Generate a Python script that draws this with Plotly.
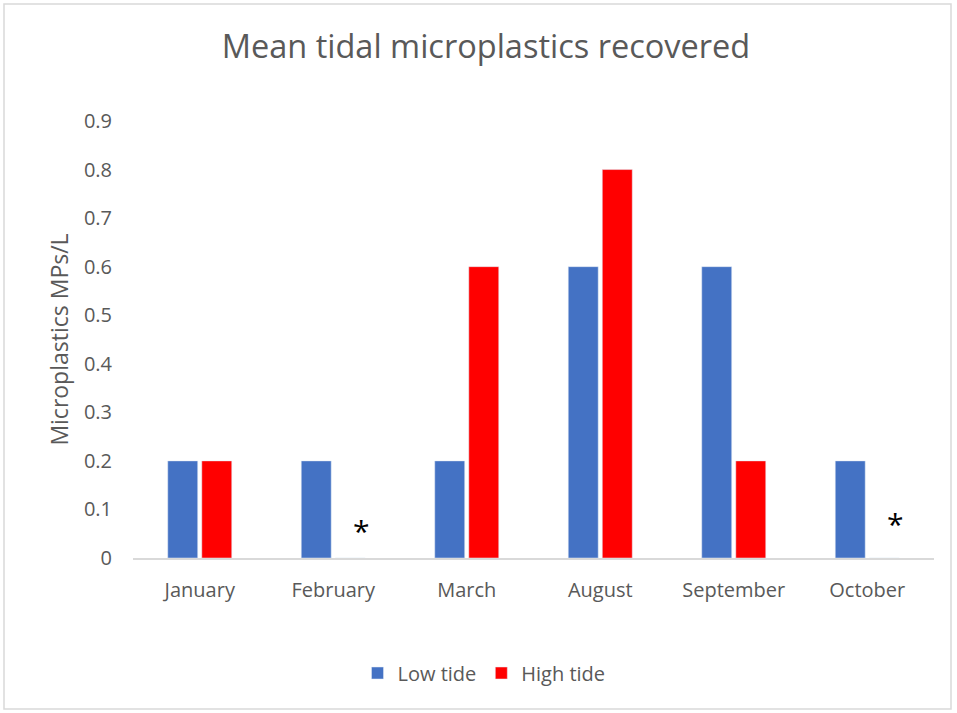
import plotly.graph_objects as go

months = ["January", "February", "March", "August", "September", "October"]
low_tide = [0.2, 0.2, 0.2, 0.6, 0.6, 0.2]
high_tide = [0.2, 0, 0.6, 0.8, 0.2, 0]

# months where no high-tide sample was taken, flagged with an asterisk
flagged_months = ["February", "October"]
flag_heights = [0.057, 0.072]

FONT = "'Open Sans', sans-serif"
GREY = "#595959"

fig = go.Figure()
fig.add_trace(go.Bar(name="Low tide", x=months, y=low_tide, marker_color="#4472C4"))
fig.add_trace(go.Bar(name="High tide", x=months, y=high_tide, marker_color="#FF0000"))

for m, h in zip(flagged_months, flag_heights):
    fig.add_annotation(x=m, y=h, xref="x", yref="y", text="*", showarrow=False,
                       xshift=28, font=dict(size=30, color="black", family=FONT))

# light frame around the whole chart
L, R, T, B = 133, 934, 121, 558
W, H = R - L, B - T
def px(x):
    return (x - L) / W
def py(y):
    return (B - y) / H
fig.add_shape(type="rect", xref="paper", yref="paper",
              x0=px(4), x1=px(951), y0=py(709), y1=py(4),
              line=dict(color="#D9D9D9", width=1.5), layer="below")

fig.update_layout(
    width=957, height=713,
    margin=dict(l=L, r=957 - R, t=T, b=713 - B),
    paper_bgcolor="white", plot_bgcolor="white",
    barmode="group", bargap=0.49, bargroupgap=0.12,
    title=dict(text="Mean tidal microplastics recovered", xref="container",
               x=486 / 957, xanchor="center",
               y=1 - 47 / 713, yanchor="middle",
               font=dict(size=32.5, color=GREY, family=FONT)),
    font=dict(family=FONT, color=GREY, size=20),
    showlegend=True,
    legend=dict(orientation="h", x=px(484), xanchor="center", y=py(673), yanchor="middle",
                font=dict(size=20, color=GREY), itemwidth=30),
    xaxis=dict(showgrid=False, showline=True, linecolor="#D9D9D9", linewidth=1.5,
               ticks="", ticklabelstandoff=13, tickfont=dict(size=20, color=GREY)),
    yaxis=dict(range=[0, 0.9], dtick=0.1, showgrid=False, zeroline=False, showline=False,
               ticklabelstandoff=20,
               tickfont=dict(size=20, color=GREY), tickformat=".1~f",
               title=dict(text="Microplastics MPs/L", font=dict(size=23, color=GREY), standoff=8)),
)

fig.write_html("out.html")
